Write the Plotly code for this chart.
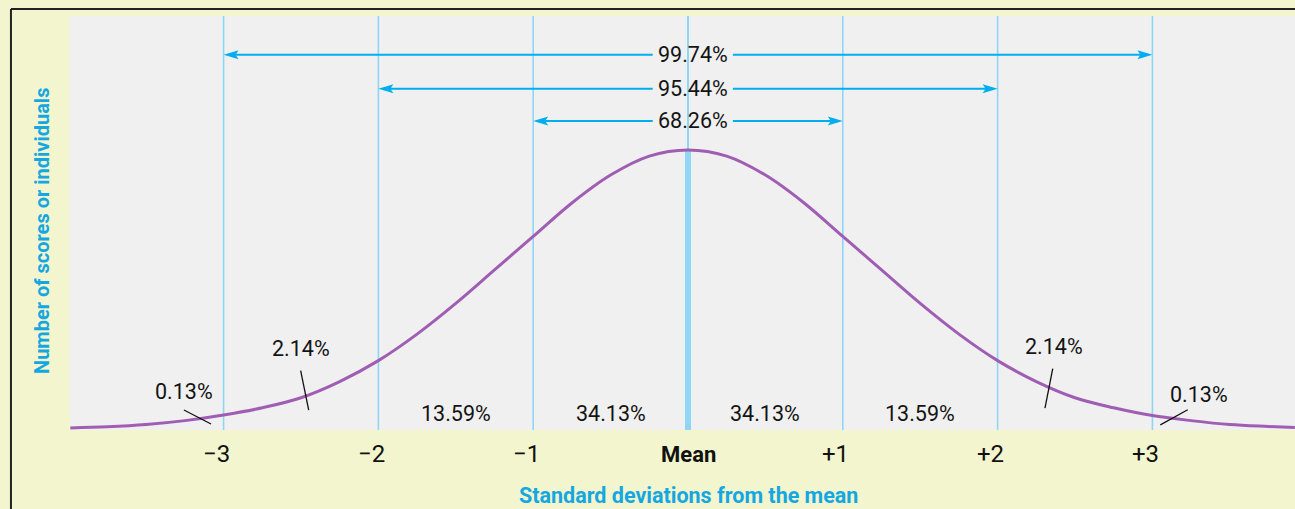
import plotly.graph_objects as go

# bell curve heights (peak = 1)
curve_x = [-3.99, -3.75, -3.5, -3.25, -3.0, -2.75, -2.5, -2.25, -2.0, -1.75, -1.5, -1.25, -1.0, -0.75, -0.5, -0.25, 0.0,
           0.25, 0.5, 0.75, 1.0, 1.25, 1.5, 1.75, 2.0, 2.25, 2.5, 2.75, 3.0, 3.25, 3.5, 3.75, 3.92]
curve_y = [0.004, 0.008, 0.016, 0.030, 0.050, 0.076, 0.112, 0.170, 0.245, 0.340, 0.450, 0.570, 0.690, 0.810, 0.910, 0.978, 1.0,
           0.978, 0.910, 0.810, 0.690, 0.570, 0.450, 0.340, 0.245, 0.170, 0.112, 0.076, 0.048, 0.030, 0.016, 0.009, 0.005]

sd_positions = [-3, -2, -1, 1, 2, 3]
tick_vals = [-3, -2, -1, 0, 1, 2, 3]
tick_text = ['\u22123', '\u22122', '\u22121', '<b>Mean</b>', '+1', '+2', '+3']

# spans covered by the arrows and their percentages
span_lo = [-3, -2, -1]
span_hi = [3, 2, 1]
span_pct = ['99.74%', '95.44%', '68.26%']
span_y = [1.341, 1.219, 1.104]

# area labels under the curve
band_x = [-1.5, -0.5, 0.5, 1.5]
band_pct = ['13.59%', '34.13%', '34.13%', '13.59%']
band_y = 0.057

# tail labels with leader lines
tail_pct = ['0.13%', '2.14%', '2.14%', '0.13%']
tail_x = [-3.256, -2.5, 2.364, 3.298]
tail_y = [0.133, 0.289, 0.294, 0.125]
lead_x0 = [-3.256, -2.502, 2.356, 3.228]
lead_y0 = [0.068, 0.209, 0.216, 0.069]
lead_x1 = [-3.081, -2.450, 2.306, 3.051]
lead_y1 = [0.018, 0.068, 0.075, 0.015]

FONT = 'Roboto, Liberation Sans, sans-serif'
BLUE = '#00aeef'
LINE_BLUE = '#8fd6f6'
TITLE_BLUE = '#15a7e2'
PURPLE = '#a05db4'

fig = go.Figure()

# the curve
fig.add_trace(go.Scatter(x=curve_x, y=curve_y, mode='lines', line=dict(color=PURPLE, width=3, shape='spline'),
                         hoverinfo='skip', showlegend=False))

# leader lines
for i in range(len(tail_pct)):
    fig.add_trace(go.Scatter(x=[lead_x0[i], lead_x1[i]], y=[lead_y0[i], lead_y1[i]], mode='lines',
                             line=dict(color='#111111', width=1.3), hoverinfo='skip', showlegend=False))

# arrow shafts, broken where the text sits
gap_l, gap_r, txt_x = -0.228, 0.29, 0.032
for lo, hi, y in zip(span_lo, span_hi, span_y):
    fig.add_trace(go.Scatter(x=[lo + 0.05, gap_l, None, gap_r, hi - 0.05], y=[y, y, None, y, y], mode='lines',
                             line=dict(color=BLUE, width=2), hoverinfo='skip', showlegend=False))

shapes = []
# SD lines
for x in sd_positions:
    shapes.append(dict(type='line', xref='x', yref='paper', x0=x, x1=x, y0=0, y1=1,
                       line=dict(color=LINE_BLUE, width=1.6), layer='below'))
# mean line: thin above the peak, thick below
shapes.append(dict(type='line', xref='x', yref='paper', x0=0, x1=0, y0=0, y1=1,
                   line=dict(color=LINE_BLUE, width=2), layer='below'))
shapes.append(dict(type='line', xref='x', yref='y', x0=0, x1=0, y0=-0.01, y1=max(curve_y),
                   line=dict(color=LINE_BLUE, width=6), layer='below'))

# arrowheads (pixel sized, anchored at the SD lines)
for lo, hi, y in zip(span_lo, span_hi, span_y):
    shapes.append(dict(type='path', xref='x', yref='y', xsizemode='pixel', ysizemode='pixel',
                       xanchor=lo, yanchor=y, path='M0,0 L15,4.5 L12,0 L15,-4.5 Z',
                       fillcolor=BLUE, line=dict(width=0)))
    shapes.append(dict(type='path', xref='x', yref='y', xsizemode='pixel', ysizemode='pixel',
                       xanchor=hi, yanchor=y, path='M0,0 L-15,4.5 L-12,0 L-15,-4.5 Z',
                       fillcolor=BLUE, line=dict(width=0)))

# outer frame (top and left only)
shapes.append(dict(type='line', xref='paper', yref='paper', x0=-0.0482, x1=1.0, y0=1.0169, y1=1.0169,
                   line=dict(color='#222222', width=2)))
shapes.append(dict(type='line', xref='paper', yref='paper', x0=-0.0482, x1=-0.0482, y0=1.0169, y1=-0.2,
                   line=dict(color='#222222', width=2)))

annotations = []
txt = dict(showarrow=False, xanchor='center', yanchor='middle')
for pct, y in zip(span_pct, span_y):
    annotations.append(dict(x=txt_x, y=y, text=pct, font=dict(size=21.5, color='#141414'), **txt))
for x, pct in zip(band_x, band_pct):
    annotations.append(dict(x=x, y=band_y, text=pct, font=dict(size=21.5, color='#141414'), **txt))
for x, y, pct in zip(tail_x, tail_y, tail_pct):
    annotations.append(dict(x=x, y=y, text=pct, font=dict(size=21.5, color='#141414'), **txt))
for v, t in zip(tick_vals, tick_text):
    annotations.append(dict(x=v, y=-0.058, yref='paper', text=t, xshift=0 if v == 0 else -7,
                            font=dict(size=22 if v == 0 else 24, color='#111111'), **txt))

annotations.append(dict(x=0.5045, y=-0.159, xref='paper', yref='paper',
                        text='<b>Standard deviations from the mean</b>', font=dict(size=21.5, color=TITLE_BLUE), **txt))
annotations.append(dict(x=-0.0229, y=0.4807, xref='paper', yref='paper', textangle=-90,
                        text='<b>Number of scores or individuals</b>', font=dict(size=20, color=TITLE_BLUE), **txt))

fig.update_layout(
    width=1295, height=509,
    margin=dict(l=70, r=0, t=16, b=79),
    paper_bgcolor='#f2f5cd',
    plot_bgcolor='#f0f0f0',
    font=dict(family=FONT),
    shapes=shapes,
    annotations=annotations,
    xaxis=dict(range=[-3.992, 3.921], showgrid=False, zeroline=False, showticklabels=False, ticks=''),
    yaxis=dict(range=[-0.0036, 1.48], showgrid=False, zeroline=False, showticklabels=False, ticks=''),
)

fig.write_html("out.html", config={'displayModeBar': False},
               post_script="document.body.style.margin='0';")
